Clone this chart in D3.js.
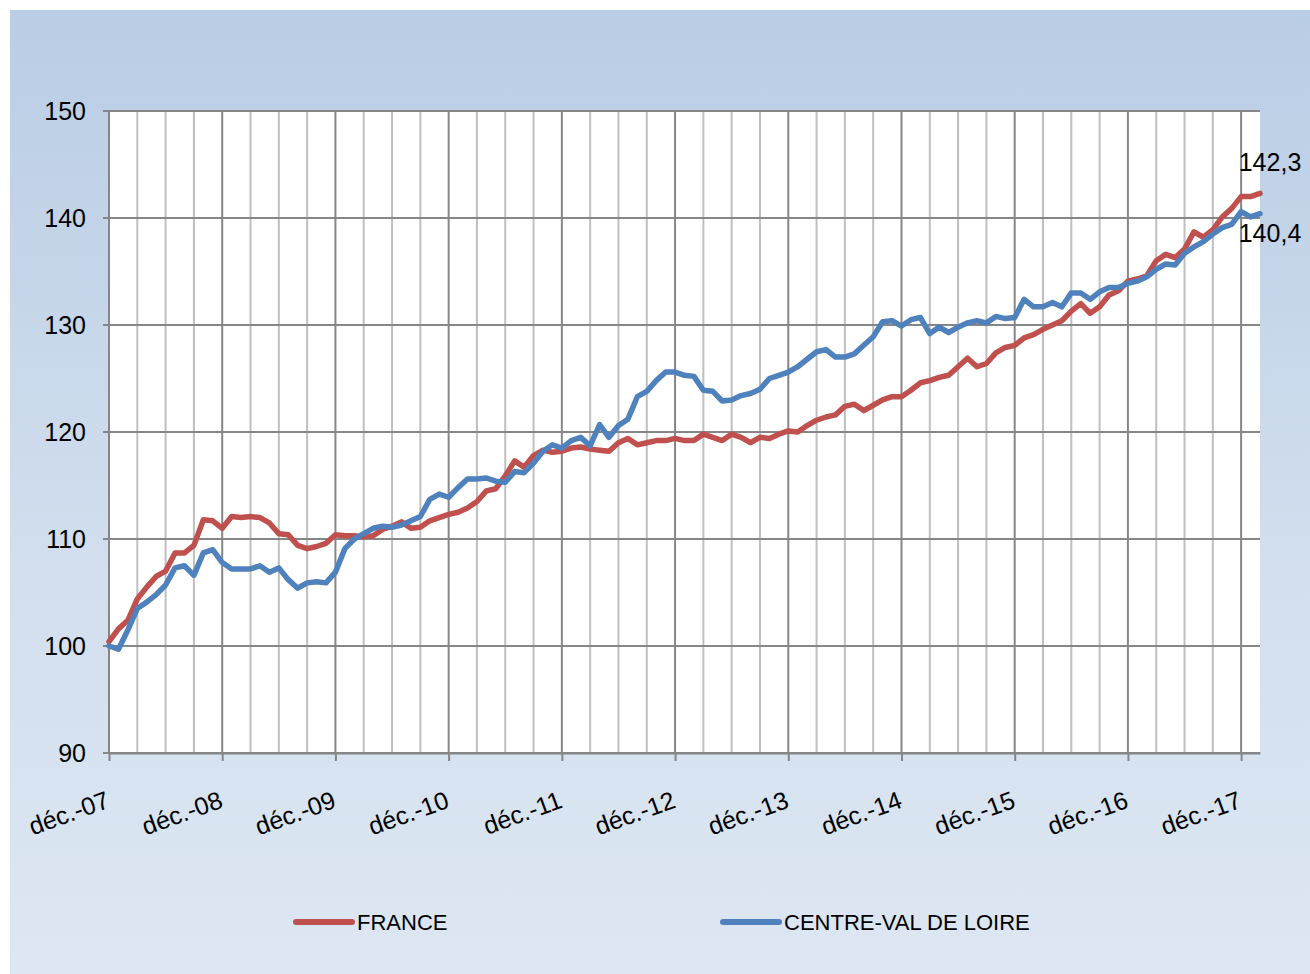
<!DOCTYPE html>
<html>
<head>
<meta charset="utf-8">
<script src="https://cdn.jsdelivr.net/npm/d3@7"></script>
<style>
body { margin: 0; background: #fff; }
svg text { font-family: "Liberation Sans", Arial, sans-serif; fill: #000; }
</style>
</head>
<body>
<svg id="chart" width="1310" height="974"></svg>
<script>
// indices mensuels, déc. 2007 = 100 ... fév. 2018
var france = [
  100.4, 101.6, 102.4, 104.4, 105.5, 106.5, 107.0, 108.7, 108.7, 109.4, 111.8, 111.7,
  111.0, 112.1, 112.0, 112.1, 112.0, 111.5, 110.5, 110.4, 109.4, 109.1, 109.3, 109.6,
  110.4, 110.3, 110.3, 110.2, 110.3, 110.9, 111.2, 111.6, 111.0, 111.1, 111.7, 112.0,
  112.3, 112.5, 112.9, 113.5, 114.5, 114.7, 115.9, 117.3, 116.7, 117.8, 118.3, 118.1,
  118.2, 118.5, 118.6, 118.4, 118.3, 118.2, 119.0, 119.4, 118.8, 119.0, 119.2, 119.2,
  119.4, 119.2, 119.2, 119.8, 119.5, 119.2, 119.8, 119.5, 119.0, 119.5, 119.4, 119.8,
  120.1, 120.0, 120.6, 121.1, 121.4, 121.6, 122.4, 122.6, 122.0, 122.5, 123.0, 123.3,
  123.3, 123.9, 124.6, 124.8, 125.1, 125.3, 126.1, 126.9, 126.1, 126.4, 127.4, 127.9,
  128.1, 128.8, 129.1, 129.6, 130.0, 130.4, 131.3, 132.0, 131.1, 131.7, 132.8, 133.2,
  134.1, 134.3, 134.6, 136.0, 136.6, 136.3, 137.1, 138.7, 138.2, 138.9, 140.1, 140.9,
  142.0, 142.0, 142.3
];
var centre = [
  100.0, 99.7, 101.5, 103.5, 104.1, 104.8, 105.7, 107.3, 107.5, 106.6, 108.7, 109.0,
  107.8, 107.2, 107.2, 107.2, 107.5, 106.9, 107.3, 106.2, 105.4, 105.9, 106.0, 105.9,
  106.9, 109.1, 110.0, 110.5, 111.0, 111.2, 111.1, 111.3, 111.7, 112.1, 113.7, 114.2,
  113.9, 114.8, 115.6, 115.6, 115.7, 115.4, 115.3, 116.3, 116.2, 117.1, 118.2, 118.8,
  118.5, 119.2, 119.5, 118.7, 120.7, 119.5, 120.6, 121.2, 123.3, 123.8, 124.8, 125.6,
  125.6, 125.3, 125.2, 123.9, 123.8, 122.9, 123.0, 123.4, 123.6, 124.0, 125.0, 125.3,
  125.6, 126.1, 126.8, 127.5, 127.7, 127.0, 127.0, 127.3, 128.1, 128.9, 130.3, 130.4,
  129.9, 130.5, 130.7, 129.2, 129.8, 129.3, 129.8, 130.2, 130.4, 130.2, 130.8, 130.6,
  130.7, 132.4, 131.7, 131.7, 132.1, 131.7, 133.0, 133.0, 132.4, 133.1, 133.5, 133.5,
  133.9, 134.1, 134.5, 135.2, 135.7, 135.6, 136.7, 137.3, 137.8, 138.5, 139.1, 139.4,
  140.6, 140.1, 140.4
];
var yearLabels = ["déc.-07", "déc.-08", "déc.-09", "déc.-10", "déc.-11", "déc.-12",
                  "déc.-13", "déc.-14", "déc.-15", "déc.-16", "déc.-17"];
var yTicks = [90, 100, 110, 120, 130, 140, 150];
var seriesNames = ["FRANCE", "CENTRE-VAL DE LOIRE"];
var colors = ["#c0504d", "#4f81bd"];

var svg = d3.select("#chart");
var pLeft = 109, pRight = 1260, pTop = 111, pBottom = 753;

var grad = svg.append("defs").append("linearGradient")
    .attr("id", "bg").attr("x1", 0).attr("y1", 0).attr("x2", 0).attr("y2", 1);
grad.append("stop").attr("offset", "0%").attr("stop-color", "#b9cde5");
grad.append("stop").attr("offset", "60%").attr("stop-color", "#d3dfee");
grad.append("stop").attr("offset", "100%").attr("stop-color", "#dde7f3");

svg.append("rect").attr("x", 10).attr("y", 10).attr("width", 1300).attr("height", 964)
    .attr("fill", "url(#bg)");

var x = d3.scaleLinear().domain([0, france.length - 1]).range([pLeft, pRight]);
var y = d3.scaleLinear().domain([90, 150]).range([pBottom, pTop]);

svg.append("rect").attr("x", pLeft).attr("y", pTop)
    .attr("width", pRight - pLeft).attr("height", pBottom - pTop).attr("fill", "#fff");

// grille verticale trimestrielle
var quarters = d3.range(0, france.length, 3);
svg.append("g").selectAll("line").data(quarters).join("line")
    .attr("x1", d => x(d)).attr("x2", d => x(d))
    .attr("y1", pTop).attr("y2", pBottom)
    .attr("stroke", d => d % 12 == 0 ? "#868686" : "#bfbfbf")
    .attr("stroke-width", 2);

// grille horizontale
svg.append("g").selectAll("line").data(yTicks).join("line")
    .attr("x1", pLeft - 6).attr("x2", pRight)
    .attr("y1", d => y(d)).attr("y2", d => y(d))
    .attr("stroke", "#868686").attr("stroke-width", 2);

// axe x
var years = d3.range(0, france.length, 12);
var xAxis = d3.axisBottom(x).tickValues(years).tickSize(8).tickSizeOuter(0).tickFormat("");
var gx = svg.append("g").attr("transform", "translate(0," + pBottom + ")").call(xAxis);
gx.select(".domain").attr("stroke", "#868686").attr("stroke-width", 2);
gx.selectAll(".tick line").attr("stroke", "#868686").attr("stroke-width", 2);

svg.append("g").selectAll("text").data(years).join("text")
    .attr("transform", (d, i) => "translate(" + (x(d) + 2) + ",807) rotate(-20)")
    .attr("text-anchor", "end")
    .style("font-size", "25px")
    .text((d, i) => yearLabels[i]);

// axe y
svg.append("line").attr("x1", pLeft).attr("x2", pLeft).attr("y1", pTop).attr("y2", pBottom)
    .attr("stroke", "#868686").attr("stroke-width", 2);
svg.append("g").selectAll("text").data(yTicks).join("text")
    .attr("x", 86).attr("y", d => y(d) + 9)
    .attr("text-anchor", "end")
    .style("font-size", "25px")
    .text(d => d);

// courbes
var line = d3.line().x((d, i) => x(i)).y(d => y(d));
[france, centre].forEach(function (s, k) {
    svg.append("path").datum(s)
        .attr("d", line)
        .attr("fill", "none")
        .attr("stroke", colors[k])
        .attr("stroke-width", 5.5)
        .attr("stroke-linejoin", "round")
        .attr("stroke-linecap", "round");
});

// étiquettes des dernières valeurs
var n = france.length - 1;
svg.append("text").attr("x", 1270).attr("y", y(france[n]) - 22)
    .attr("text-anchor", "middle").style("font-size", "25px")
    .text(String(france[n]).replace(".", ","));
svg.append("text").attr("x", 1270).attr("y", y(centre[n]) + 28)
    .attr("text-anchor", "middle").style("font-size", "25px")
    .text(String(centre[n]).replace(".", ","));

// légende
var legX = [296, 723];
seriesNames.forEach(function (name, k) {
    svg.append("line")
        .attr("x1", legX[k]).attr("x2", legX[k] + 56)
        .attr("y1", 922).attr("y2", 922)
        .attr("stroke", colors[k]).attr("stroke-width", 6)
        .attr("stroke-linecap", "round");
    svg.append("text").attr("x", legX[k] + 61).attr("y", 930)
        .style("font-size", "22px")
        .text(name);
});
</script>
</body>
</html>
